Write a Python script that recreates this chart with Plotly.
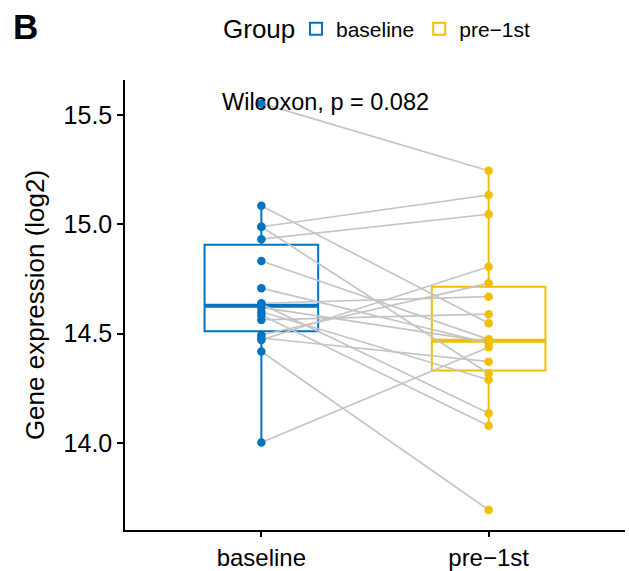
import numpy as np
import plotly.graph_objects as go

groups = ["baseline", "pre\u22121st"]
baseline = [15.553, 14.989, 14.932, 15.085, 14.989, 14.832, 14.708, 14.639, 14.636,
            14.620, 14.600, 14.585, 14.563, 14.494, 14.480, 14.471, 14.418, 14.002]
pre1st = [15.245, 15.134, 15.046, 14.548, 14.318, 14.474, 14.456, 14.669, 14.136,
          14.462, 14.289, 14.079, 14.589, 14.730, 14.372, 14.806, 13.694, 14.438]
colors = ["#0073C2", "#EFC000"]
ytick_vals = [14.0, 14.5, 15.0, 15.5]
p_label = "Wilcoxon, p = 0.082"
legend_title = "Group"

FONT = "Liberation Sans, Arial, Helvetica, sans-serif"

def stats(v):
    v = np.asarray(v)
    q1, med, q3 = np.percentile(v, [25, 50, 75])
    iqr = q3 - q1
    lo = v[v >= q1 - 1.5 * iqr].min()
    hi = v[v <= q3 + 1.5 * iqr].max()
    return q1, med, q3, lo, hi

fig = go.Figure()
series = [baseline, pre1st]
for i, (name, vals, col) in enumerate(zip(groups, series, colors)):
    q1, med, q3, lo, hi = stats(vals)
    fig.add_trace(go.Box(
        x=[i], q1=[q1], median=[med], q3=[q3], lowerfence=[lo], upperfence=[hi],
        name=name, width=0.5, whiskerwidth=0, boxpoints=False,
        line=dict(color=col, width=2), fillcolor="rgba(255,255,255,0)",
        showlegend=True, hoverinfo="skip"))
    fig.add_trace(go.Scatter(
        x=[i - 0.25, i + 0.25], y=[med, med], mode="lines",
        line=dict(color=col, width=4), showlegend=False, hoverinfo="skip"))

# paired lines
for b, p in zip(baseline, pre1st):
    fig.add_trace(go.Scatter(
        x=[0, 1], y=[b, p], mode="lines",
        line=dict(color="#C4C4C4", width=1.7), showlegend=False, hoverinfo="skip"))

for i, (vals, col) in enumerate(zip(series, colors)):
    fig.add_trace(go.Scatter(
        x=[i] * len(vals), y=vals, mode="markers",
        marker=dict(color=col, size=8.5), showlegend=False, hoverinfo="skip"))

fig.add_annotation(x=-0.18, y=15.561, xref="x", yref="y", text=p_label,
                   showarrow=False, xanchor="left", yanchor="middle",
                   font=dict(family=FONT, size=23.5, color="black"))
fig.add_annotation(x=-0.228, y=1.118, xref="paper", yref="paper", text="<b>B</b>",
                   showarrow=False, xanchor="left", yanchor="middle",
                   font=dict(family=FONT, size=35, color="black"))
fig.add_annotation(x=(221 - 125) / 500, y=(530 - 29) / 450, xref="paper", yref="paper",
                   text=legend_title, showarrow=False, xanchor="left", yanchor="middle",
                   font=dict(family=FONT, size=26, color="black"))

fig.update_layout(
    width=629, height=571,
    margin=dict(l=125, r=4, t=80, b=41),
    paper_bgcolor="white", plot_bgcolor="white",
    font=dict(family=FONT, size=20, color="black"),
    legend=dict(orientation="h", x=(296 - 125) / 500, xanchor="left",
                y=(530 - 29) / 450, yanchor="middle",
                font=dict(size=21), itemwidth=30, tracegroupgap=0),
    xaxis=dict(range=[-0.6, 1.6], tickvals=[0, 1], ticktext=groups,
               showline=True, linecolor="black", linewidth=1.5,
               ticks="outside", ticklen=5, tickwidth=1.5, tickcolor="black",
               showgrid=False, zeroline=False, tickfont=dict(size=24), automargin=False),
    yaxis=dict(range=[13.602, 15.660], tickvals=ytick_vals,
               ticktext=[f"{v:.1f}" for v in ytick_vals],
               showline=True, linecolor="black", linewidth=1.5,
               ticks="outside", ticklen=6, tickwidth=1.5, tickcolor="black",
               showgrid=False, zeroline=False, tickfont=dict(size=25), automargin=False,
               title=dict(text="Gene expression (log2)", font=dict(size=26), standoff=11)),
)

fig.write_html("out.html")
